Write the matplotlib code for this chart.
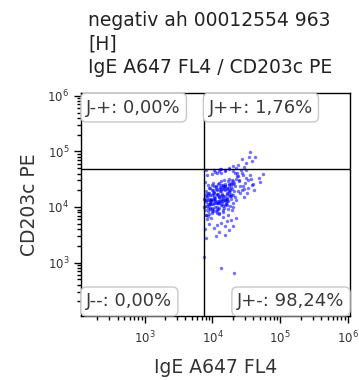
import matplotlib
matplotlib.use("Agg")
import matplotlib.pyplot as plt
import numpy as np

# event positions, log10 of fluorescence
# dense core
core_x = [
    3.89, 3.93, 3.96, 3.99, 4.02, 4.05, 4.06, 4.11, 4.12, 4.17,
    4.18, 4.23, 4.24, 4.29, 4.30, 4.35, 3.90, 3.95, 3.96, 4.01,
    4.04, 4.05, 4.10, 4.13, 4.14, 4.19, 4.20, 4.25, 4.26, 4.31,
    3.91, 3.94, 3.97, 3.98, 4.03, 4.06, 4.09, 4.10, 4.15, 4.16,
    4.21, 4.22, 4.27, 4.28, 4.33, 3.88, 3.93, 3.95, 4.01, 4.03,
    4.09, 4.11, 4.17, 4.19, 4.25, 4.27, 3.91, 3.94, 4.01, 4.04,
    4.11, 4.14, 4.21, 4.24, 4.31, 3.92, 3.99, 4.02, 4.09, 4.12,
    4.19, 4.22, 4.29, 4.32, 3.90, 3.98, 4.01, 4.08, 4.11, 4.18,
    4.21, 4.28, 3.95, 4.00, 4.07, 4.10, 4.15, 4.18, 4.25, 4.08,
    3.98, 4.05, 4.15, 4.22, 4.25, 4.12, 4.06, 4.14, 4.03, 4.17,
]
core_y = [
    4.12, 4.26, 4.07, 4.31, 4.17, 4.36, 4.21, 4.29, 4.40, 4.33,
    4.37, 4.46, 4.35, 4.49, 4.41, 4.51, 4.19, 4.14, 4.34, 4.25,
    4.10, 4.38, 4.18, 4.35, 4.22, 4.30, 4.15, 4.41, 4.30, 4.47,
    4.29, 4.05, 4.22, 4.13, 4.37, 4.23, 4.08, 4.44, 4.16, 4.40,
    4.26, 4.34, 4.44, 4.24, 4.38, 4.15, 4.39, 4.26, 4.06, 4.19,
    4.33, 4.12, 4.48, 4.19, 4.27, 4.42, 4.09, 4.22, 4.43, 4.16,
    4.36, 4.24, 4.32, 4.50, 4.21, 4.18, 4.40, 4.27, 4.11, 4.28,
    4.37, 4.17, 4.33, 4.44, 4.24, 4.10, 4.31, 4.41, 4.20, 4.13,
    4.23, 4.36, 4.35, 4.21, 4.30, 4.18, 4.38, 4.42, 4.29, 4.24,
    4.15, 4.32, 4.19, 4.14, 4.39, 4.46, 4.08, 4.33, 4.25, 4.36,
]
# lower-left part of the cloud, close to the vertical gate
low_x = [
    3.89, 3.92, 3.95, 3.98, 4.01, 4.04, 4.08, 4.12, 4.16, 4.20,
    3.90, 3.94, 3.97, 4.00, 4.03, 4.07, 4.11, 4.15, 4.19, 4.23,
    3.91, 3.96, 4.02, 4.06, 4.10, 4.14, 4.18, 3.93, 3.99, 4.05,
]
low_y = [
    3.95, 4.02, 3.88, 4.06, 3.93, 4.00, 3.97, 4.04, 3.91, 4.08,
    4.12, 3.84, 4.10, 3.98, 4.14, 3.90, 4.09, 4.01, 4.12, 3.96,
    3.86, 4.05, 4.08, 3.94, 3.99, 4.11, 4.03, 3.99, 3.92, 4.07,
]
# wider spread around the core
spread_x = [
    3.89, 4.05, 4.22, 4.38, 4.52, 3.93, 4.10, 4.28, 4.44, 4.58,
    3.97, 4.14, 4.31, 4.47, 3.91, 4.08, 4.25, 4.41, 4.55, 4.00,
    4.17, 4.34, 4.49, 3.95, 4.12, 4.29, 4.45, 3.88, 4.03, 4.20,
    4.36, 4.50, 3.99, 4.15, 4.32, 4.46, 4.06, 4.23, 4.39, 4.53,
    3.92, 4.09, 4.26, 4.42, 3.96, 4.13, 4.30, 4.48, 4.02, 4.19,
    4.35, 4.57, 3.90, 4.07, 4.24, 4.40, 4.11, 4.27, 4.43, 3.94,
    4.16, 4.33, 4.04, 4.21, 4.37, 4.60, 3.98, 4.18, 4.36, 4.51,
    4.01, 4.14, 4.30, 4.45, 3.89, 4.10, 4.26, 4.39, 4.06, 4.23,
]
spread_y = [
    4.02, 3.92, 4.10, 4.55, 4.48, 4.12, 3.88, 4.20, 4.62, 4.40,
    3.96, 4.05, 4.64, 4.32, 3.86, 4.08, 4.68, 4.25, 4.58, 3.90,
    3.98, 4.18, 4.52, 4.04, 4.62, 3.95, 4.38, 4.00, 4.66, 4.06,
    4.62, 4.66, 4.60, 3.94, 4.28, 4.18, 4.10, 3.85, 4.48, 4.35,
    4.58, 4.65, 4.02, 4.66, 3.98, 4.68, 4.08, 4.44, 4.12, 4.64,
    4.12, 4.50, 4.66, 4.00, 4.22, 4.38, 4.68, 4.14, 4.30, 3.92,
    4.10, 4.62, 4.63, 4.04, 4.28, 4.42, 4.12, 4.66, 4.55, 4.25,
    3.96, 4.14, 4.00, 4.58, 4.45, 3.90, 4.20, 4.46, 4.62, 4.10,
]
# above the horizontal gate (J++)
upper_x = [4.56, 4.54, 4.63, 4.44, 4.50, 4.38, 4.58, 4.30, 4.47, 4.24, 4.35]
upper_y = [4.99, 4.90, 4.90, 4.86, 4.80, 4.76, 4.82, 4.74, 4.72, 4.71, 4.71]
# lower tail and stray events
tail_x = [4.02, 4.10, 4.18, 4.25, 3.95, 4.30, 4.12, 4.22, 3.92, 4.35, 3.90, 4.07,
          4.15, 3.98, 4.28, 4.05, 3.89, 4.19,
          3.88, 4.12, 4.32, 4.75, 4.70, 4.62, 4.68]
tail_y = [3.62, 3.55, 3.50, 3.58, 3.70, 3.65, 3.72, 3.75, 3.78, 3.80, 3.45, 3.68,
          3.82, 3.80, 3.76, 3.48, 3.60, 3.66,
          3.10, 2.90, 2.82, 4.60, 4.45, 4.30, 4.52]

gate_x = 7.4e3
gate_y = 4.9e4
quad_labels = ["J-+: 0,00%", "J++: 1,76%", "J--: 0,00%", "J+-: 98,24%"]
title = "negativ ah 00012554 963\n[H]\nIgE A647 FL4 / CD203c PE"
xlabel = "IgE A647 FL4"
ylabel = "CD203c PE"

log_x = np.array(core_x + low_x + spread_x + upper_x + tail_x)
log_y = np.array(core_y + low_y + spread_y + upper_y + tail_y)

fig = plt.figure(figsize=(3.59, 3.80), dpi=100)
ax = fig.add_axes([0.2256, 0.1684, 0.7494, 0.5869])

ax.scatter(10 ** log_x, 10 ** log_y, s=6, c="#0000ff",
           alpha=0.55, linewidths=0, zorder=2)

ax.set_xscale("log")
ax.set_yscale("log")
ax.set_xlim(10 ** 2.06, 10 ** 6.03)
ax.set_ylim(10 ** 2.04, 10 ** 6.05)

ax.axvline(gate_x, color="black", lw=1, zorder=3)
ax.axhline(gate_y, color="black", lw=1, zorder=3)

ax.set_xticks([1e3, 1e4, 1e5, 1e6])
ax.set_yticks([1e3, 1e4, 1e5, 1e6])
ax.tick_params(which="both", direction="out", top=False, right=False,
               labelsize=8.5, labelcolor="#333333", width=1)
ax.tick_params(which="major", length=5)
ax.tick_params(which="minor", length=3)
ax.tick_params(axis="x", pad=5)
for sp in ax.spines.values():
    sp.set_linewidth(1)

box = dict(boxstyle="round,pad=0.3", fc="white", ec="#c8c8c8", lw=1)
kw = dict(transform=ax.transAxes, fontsize=13, color="#3a3a3a", bbox=box, zorder=5)
ax.text(0.02, 0.975, quad_labels[0], ha="left", va="top", **kw)
ax.text(0.475, 0.975, quad_labels[1], ha="left", va="top", **kw)
ax.text(0.02, 0.025, quad_labels[2], ha="left", va="bottom", **kw)
ax.text(0.98, 0.025, quad_labels[3], ha="right", va="bottom", **kw)

fig.text(0.245, 0.97, title, ha="left", va="top", fontsize=13.5,
         color="#222222", linespacing=1.3)
ax.set_xlabel(xlabel, fontsize=13.5, color="#333333", labelpad=8)
ax.set_ylabel(ylabel, fontsize=13.5, color="#333333", labelpad=6)

fig.savefig("out.png", dpi=100)
